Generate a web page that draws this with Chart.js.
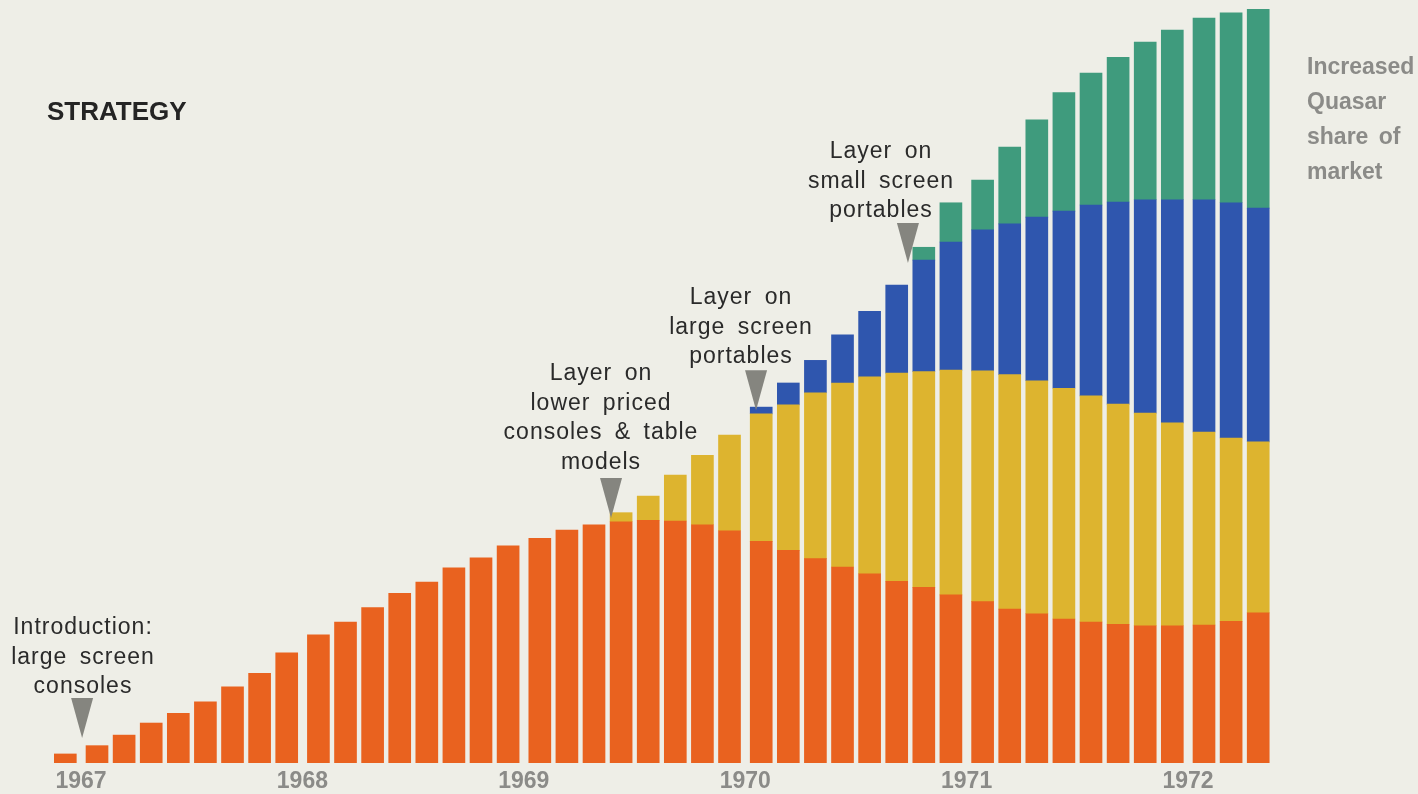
<!DOCTYPE html>
<html>
<head>
<meta charset="utf-8">
<script src="https://cdn.jsdelivr.net/npm/chart.js@4.4.1/dist/chart.umd.min.js"></script>
<style>
  html, body { margin: 0; padding: 0; background: #EEEEE7; }
  canvas { display: block; }
</style>
</head>
<body>
<canvas id="strategy" width="1418" height="794"></canvas>
<script>
// x axis: years, eight periods per year; the first bar is the last period of 1966
const yearTicks = [1967, 1968, 1969, 1970, 1971, 1972];
const firstYear = 1966, firstSlot = 7, slotsPerYear = 8;

// stacked segments, share of market (top of the last bar = 100)
const largeConsoles = [1.2, 2.3, 3.7, 5.3, 6.6, 8.1, 10.1, 11.9, 14.6, 17.0,
  18.7, 20.6, 22.5, 24.0, 25.9, 27.2, 28.8, 29.8, 30.9, 31.6,
  32.0, 32.2, 32.1, 31.6, 30.8, 29.4, 28.2, 27.1, 26.0, 25.1,
  24.1, 23.3, 22.3, 21.4, 20.4, 19.8, 19.1, 18.7, 18.4, 18.2,
  18.2, 18.3, 18.8, 19.9];
const lowerPricedConsoles = [null, null, null, null, null, null, null, null, null, null,
  null, null, null, null, null, null, null, null, null, null,
  1.2, 3.2, 6.1, 9.2, 12.7, 16.9, 19.3, 22.0, 24.4, 26.1,
  27.6, 28.6, 29.8, 30.6, 31.1, 30.9, 30.6, 30.0, 29.2, 28.2,
  26.9, 25.6, 24.3, 22.7];
const largePortables = [null, null, null, null, null, null, null, null, null, null,
  null, null, null, null, null, null, null, null, null, null,
  null, null, null, null, null, 0.9, 2.9, 4.3, 6.4, 8.7,
  11.7, 14.8, 17.0, 18.7, 20.0, 21.7, 23.5, 25.3, 26.8, 28.3,
  29.6, 30.8, 31.2, 31.0];
const smallPortables = [null, null, null, null, null, null, null, null, null, null,
  null, null, null, null, null, null, null, null, null, null,
  null, null, null, null, null, null, null, null, null, null,
  null, 1.7, 5.2, 6.6, 10.2, 12.9, 15.7, 17.5, 19.2, 20.9,
  22.5, 24.1, 25.2, 26.4];

// where each product layer starts (tip of the grey arrow)
const milestoneX = [1967.005, 1969.394, 1970.049, 1970.735];
const milestoneY = [3.3, 32.5, 46.8, 66.3];
const milestoneText = [
  ['Introduction:', 'large screen', 'consoles'],
  ['Layer on', 'lower priced', 'consoles & table', 'models'],
  ['Layer on', 'large screen', 'portables'],
  ['Layer on', 'small screen', 'portables']
];
const sideNote = ['Increased', 'Quasar', 'share of', 'market'];

// period index -> position on the year axis (a little extra gap at each new year)
function periodX(i) {
  const n = firstSlot + i;
  const year = firstYear + Math.floor(n / slotsPerYear);
  return year + 0.0723 + (n % slotsPerYear) * 0.1224;
}

function series(values) {
  return values.map((v, i) => ({x: periodX(i), y: v}));
}

const FONT = '"Liberation Sans", Arial, Helvetica, sans-serif';

// text blocks: centre x and first baseline in canvas pixels
const noteLayout = [
  {cx: 83, base: 634},
  {cx: 601, base: 380},
  {cx: 741, base: 304},
  {cx: 881, base: 158}
];

const decorations = {
  id: 'decorations',
  beforeDraw(chart) {
    const c = chart.ctx;
    c.save();
    c.fillStyle = '#EEEEE7';
    c.fillRect(0, 0, chart.width, chart.height);
    c.restore();
  },
  afterDraw(chart) {
    const c = chart.ctx;
    const xs = chart.scales.x, ys = chart.scales.y;
    c.save();

    c.fillStyle = '#242424';
    c.font = 'bold 26px ' + FONT;
    c.textAlign = 'left';
    c.textBaseline = 'alphabetic';
    c.fillText('STRATEGY', 47, 120);

    // arrows
    c.fillStyle = '#85857F';
    milestoneX.forEach((mx, i) => {
      const px = xs.getPixelForValue(mx);
      const py = ys.getPixelForValue(milestoneY[i]);
      c.beginPath();
      c.moveTo(px, py);
      c.lineTo(px - 11, py - 40);
      c.lineTo(px + 11, py - 40);
      c.closePath();
      c.fill();
    });

    // captions
    c.fillStyle = '#2A2A2A';
    c.font = '23px ' + FONT;
    c.textAlign = 'center';
    c.letterSpacing = '1px';
    c.wordSpacing = '5px';
    milestoneText.forEach((lines, i) => {
      const pos = noteLayout[i];
      lines.forEach((t, j) => c.fillText(t, pos.cx, pos.base + j * 29.5));
    });

    c.fillStyle = '#8B8B88';
    c.font = 'bold 23px ' + FONT;
    c.textAlign = 'left';
    c.letterSpacing = '0px';
    c.wordSpacing = '4px';
    sideNote.forEach((t, j) => c.fillText(t, 1307, 74 + j * 35));

    c.restore();
  }
};

const barStyle = {barThickness: 22, borderWidth: 0};

const ctx = document.getElementById('strategy').getContext('2d');
new Chart(ctx, {
  type: 'bar',
  data: {
    datasets: [
      {label: 'Large screen consoles', data: series(largeConsoles), backgroundColor: '#E9621F', ...barStyle},
      {label: 'Lower priced consoles & table models', data: series(lowerPricedConsoles), backgroundColor: '#DDB42F', ...barStyle},
      {label: 'Large screen portables', data: series(largePortables), backgroundColor: '#2F56AE', ...barStyle},
      {label: 'Small screen portables', data: series(smallPortables), backgroundColor: '#3F9B7D', ...barStyle}
    ]
  },
  options: {
    responsive: false,
    animation: false,
    layout: {padding: {top: 9, left: 0, right: 0, bottom: -6.5}},
    plugins: {
      legend: {display: false},
      tooltip: {enabled: false}
    },
    scales: {
      x: {
        type: 'linear',
        stacked: true,
        offset: false,
        min: 1966.6341,
        max: 1973.0388,
        grid: {display: false, drawTicks: false},
        border: {display: false},
        afterBuildTicks: (axis) => { axis.ticks = yearTicks.map(v => ({value: v})); },
        ticks: {
          color: '#8B8B88',
          padding: 13,
          maxRotation: 0,
          autoSkip: false,
          font: {family: FONT, size: 23, weight: 'bold', lineHeight: 0.5},
          callback: (v) => String(v)
        }
      },
      y: {
        stacked: true,
        display: false,
        min: 0,
        max: 100
      }
    }
  },
  plugins: [decorations]
});
</script>
</body>
</html>
